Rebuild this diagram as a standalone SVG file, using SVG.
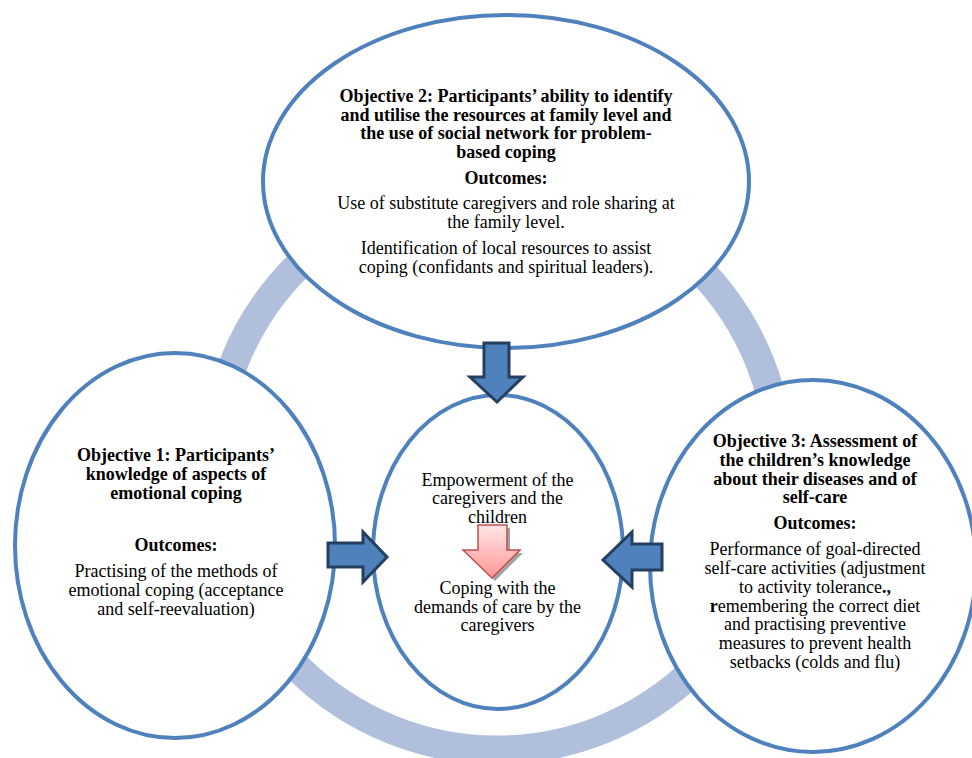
<svg xmlns="http://www.w3.org/2000/svg" width="972" height="758" viewBox="0 0 972 758">
  <defs>
    <linearGradient id="pinkGrad" x1="0" y1="0" x2="0" y2="1">
      <stop offset="0" stop-color="#FFE6E6"/>
      <stop offset="1" stop-color="#FF9696"/>
    </linearGradient>
    <style>
      .ring { fill: none; stroke: #B0C0DC; stroke-width: 29; }
      .node { fill: #FFFFFF; stroke: #4F81BD; stroke-width: 4; }
      .blk { fill: #4F81BD; stroke: #243F60; stroke-width: 3; stroke-linejoin: miter; }
      .pink { fill: url(#pinkGrad); stroke: #C0504D; stroke-width: 1.5; }
      .shadow { fill: #8C8C8C; opacity: 0.8; }
      text { font-family: "Liberation Serif", "Times New Roman", serif; font-size: 18px; fill: #000000; text-anchor: middle; }
      .b { font-weight: bold; }
    </style>
  </defs>
  <rect x="0" y="0" width="972" height="758" fill="#FFFFFF"/>

  <g id="ring">
    <circle class="ring" cx="497" cy="467" r="283"/>
  </g>

  <g id="objective2">
    <ellipse class="node" cx="506" cy="181.5" rx="243" ry="166.5"/>
    <text class="b" x="506" y="101.5">Objective 2: Participants’ ability to identify</text>
    <text class="b" x="506" y="120.5">and utilise the resources at family level and</text>
    <text class="b" x="506" y="139.3">the use of social  network for problem-</text>
    <text class="b" x="506" y="157.5">based coping</text>
    <text class="b" x="506" y="183.5">Outcomes:</text>
    <text x="506" y="209.3">Use of substitute caregivers and role sharing at</text>
    <text x="506" y="228.3">the family level.</text>
    <text x="506" y="254.3">Identification of local resources to assist</text>
    <text x="506" y="273.3">coping (confidants and spiritual leaders).</text>
  </g>

  <g id="objective1">
    <ellipse class="node" cx="175" cy="545.5" rx="160" ry="192.5"/>
    <text class="b" x="176" y="461">Objective 1: Participants’</text>
    <text class="b" x="176" y="480">knowledge of aspects of</text>
    <text class="b" x="176" y="499">emotional coping</text>
    <text class="b" x="176" y="551">Outcomes:</text>
    <text x="176" y="577">Practising of the methods of</text>
    <text x="176" y="596">emotional coping (acceptance</text>
    <text x="176" y="614.5">and self-reevaluation)</text>
  </g>

  <g id="objective3">
    <ellipse class="node" cx="813" cy="566" rx="163" ry="186"/>
    <text class="b" x="815" y="446.7">Objective 3: Assessment of</text>
    <text class="b" x="815" y="465.7">the children’s knowledge</text>
    <text class="b" x="815" y="484.5">about their diseases and of</text>
    <text class="b" x="815" y="502.7">self-care</text>
    <text class="b" x="815" y="529">Outcomes:</text>
    <text x="815" y="555">Performance of goal-directed</text>
    <text x="815" y="574">self-care activities (adjustment</text>
    <text x="815" y="592.7">to activity tolerance<tspan class="b">.,</tspan></text>
    <text x="815" y="611.7"><tspan class="b">r</tspan>emembering the correct diet</text>
    <text x="815" y="630.3">and practising preventive</text>
    <text x="815" y="649">measures to prevent health</text>
    <text x="815" y="667.7">setbacks (colds and flu)</text>
  </g>

  <g id="center">
    <ellipse class="node" cx="498" cy="552" rx="125" ry="157"/>
    <text x="497.5" y="485.7">Empowerment of the</text>
    <text x="497.5" y="504">caregivers and the</text>
    <text x="497.5" y="522.7">children</text>
    <text x="497.5" y="594.3">Coping with the</text>
    <text x="497.5" y="612.7">demands of care by the</text>
    <text x="497.5" y="631">caregivers</text>
  </g>

  <g id="connectors">
    <path class="blk" d="M484,343 H509 V377 H523 L497,402 L470,377 H484 Z"/>
    <path class="blk" d="M328,543 H363 V532 L387,557 L363,582 V567 H328 Z"/>
    <path class="blk" d="M662,544 H632 V532 L603,560 L632,587 V570 H662 Z"/>
    <path class="shadow" d="M481,528 H510 V553 H523 L495,581 L466,553 H481 Z"/>
    <path class="pink" d="M478,525 H507 V550 H520 L492,578 L463,550 H478 Z"/>
  </g>
</svg>
